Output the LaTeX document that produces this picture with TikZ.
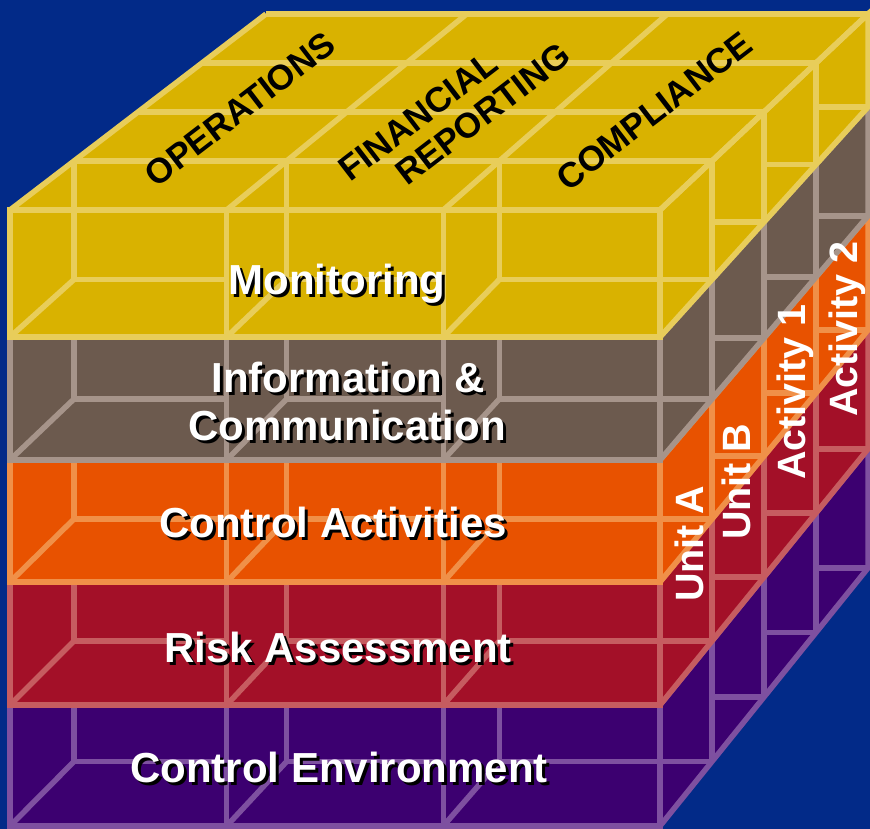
\documentclass[tikz,border=0pt]{standalone}
\usepackage{fontspec}
\setmainfont{Liberation Sans}
\usetikzlibrary{calc}
\definecolor{bg}{HTML}{022A88}
\definecolor{monF}{HTML}{D9B200}
\definecolor{monL}{HTML}{E8CD5A}
\definecolor{infF}{HTML}{6C5A4E}
\definecolor{infL}{HTML}{A6948A}
\definecolor{actF}{HTML}{E85200}
\definecolor{actL}{HTML}{F09048}
\definecolor{rskF}{HTML}{A31028}
\definecolor{rskL}{HTML}{C65C60}
\definecolor{envF}{HTML}{3C0070}
\definecolor{envL}{HTML}{7E50A0}
\tikzset{
  cl/.style={draw=#1, line width=5.5pt},
  big/.style={font=\bfseries\fontsize{42}{48}\selectfont, text=white, inner sep=0pt, anchor=base},
  bigshadow/.style={big, text=black},
  toplbl/.style={font=\bfseries\fontsize{35}{40}\selectfont, text=black, inner sep=0pt, rotate=37.5},
  sidelbl/.style={font=\bfseries\fontsize{39.5}{44}\selectfont, text=white, inner sep=0pt, rotate=90, anchor=base west}
}
% #1 fill, #2 line, #3 Ytop, #4 Ybot, #5 DYtop, #6 DYbot, #7 start y of hidden vertical
\newcommand\cosolayer[7]{%
  \fill[#1] (10,#3) rectangle (660,#4);
  \fill[#1] (660,#3) -- (868,{#3-4*(#5)}) -- (868,{#4-4*(#6)}) -- (660,#4) -- cycle;
  \foreach \c in {0,1,2}{%
    \pgfmathsetmacro\xa{X(\c/3)}%
    \pgfmathsetmacro\xi{X(\c/3)+DX(\c/3)}%
    \pgfmathsetmacro\xe{\c<2 ? X((\c+1)/3) : 712}%
    \pgfmathsetmacro\yi{#4-(#6)}%
    \draw[cl=#2] (\xi,#7) -- (\xi,\yi) -- (\xe,\yi);
    \draw[cl=#2] (\xa,#4) -- (\xi,\yi);
  }
  \foreach \j in {2,3,4}{%
    \draw[cl=#2] ({660+52*(\j-1)},{#4-\j*(#6)}) -- ({660+52*\j},{#4-\j*(#6)});
  }
  \draw[cl=#2] (10,#3) rectangle (660,#4);
  \foreach \c in {1,2}{\draw[cl=#2] ({X(\c/3)},#3) -- ({X(\c/3)},#4);}
  \draw[cl=#2] (660,#3) -- (868,{#3-4*(#5)}) -- (868,{#4-4*(#6)}) -- (660,#4);
  \foreach \j in {1,2,3}{\draw[cl=#2] ({660+52*\j},{#3-\j*(#5)}) -- ({660+52*\j},{#4-\j*(#6)});}
}
\begin{document}
\begin{tikzpicture}[x=1pt,y=-1pt,
  declare function={X(\u)=10+650*\u; DX(\u)=64-12*\u;}]
\fill[bg] (0,0) rectangle (870,829);
\useasboundingbox (0,0) rectangle (870,829);
% layers, bottom to top
\cosolayer{envF}{envL}{705}{826}{64}{64.5}{705}
\cosolayer{rskF}{rskL}{582}{705}{63}{64}{582}
\cosolayer{actF}{actL}{460}{582}{61}{63}{460}
\cosolayer{infF}{infL}{337}{460}{57.5}{61}{337}
% top face
\fill[monF] (10,210) -- (660,210) -- (868,14) -- (266,14) -- cycle;
\cosolayer{monF}{monL}{210}{337}{49}{57.5}{161}
\foreach \j in {1,2,3,4}{\draw[cl=monL] ({10+64*\j},{210-49*\j}) -- ({660+52*\j},{210-49*\j});}
\foreach \u in {0,1,2,3}{\draw[cl=monL] ({X(\u/3)},210) -- ({X(\u/3)+4*DX(\u/3)},14);}
% objective labels on top face
\node[toplbl] (ops) at (240,109) {OPERATIONS};
\node[toplbl] (fin) at (418,116) {FINANCIAL};
\node[toplbl] (rep) at (483,114) {REPORTING};
\node[toplbl] (cmp) at (654,111) {COMPLIANCE};
% component labels with shadow
\node[bigshadow] at (340,297) {Monitoring};
\node[big] (mon) at (337,294) {Monitoring};
\node[bigshadow] at (351,395) {Information \&};
\node[big] (inf1) at (348,392) {Information \&};
\node[bigshadow] at (350,443) {Communication};
\node[big] (inf2) at (347,440) {Communication};
\node[bigshadow] at (336,540) {Control Activities};
\node[big] (act) at (333,537) {Control Activities};
\node[bigshadow] at (341,665) {Risk Assessment};
\node[big] (rsk) at (338,662) {Risk Assessment};
\node[bigshadow] at (342,785) {Control Environment};
\node[big] (env) at (339,782) {Control Environment};
% unit / activity labels
\node[sidelbl] (ua) at (703,602) {Unit A};
\node[sidelbl] (ub) at (750,540) {Unit B};
\node[sidelbl] (a1) at (805,480) {Activity 1};
\node[sidelbl] (a2) at (857,417) {Activity 2};
\end{tikzpicture}
\end{document}
